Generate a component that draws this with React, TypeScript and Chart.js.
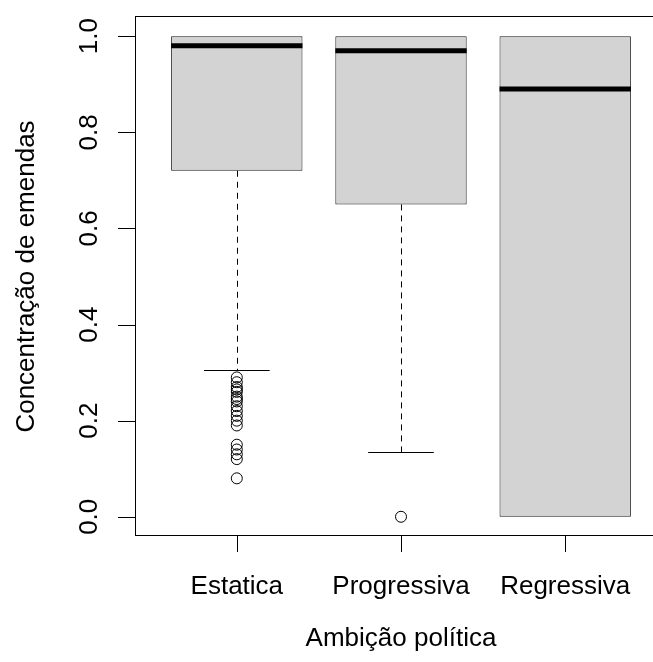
import React, { useEffect, useRef } from 'react';
import { Chart, registerables } from 'chart.js';

Chart.register(...registerables);

const categories = ['Estatica', 'Progressiva', 'Regressiva'];
const q1 = [0.72, 0.65, 0.0];
const medians = [0.98, 0.97, 0.89];
const q3 = [1.0, 1.0, 1.0];
const whiskerLow = [0.305, 0.135, 0.0];
const whiskerHigh = [1.0, 1.0, 1.0];
const outliersEstatica = [0.29, 0.28, 0.27, 0.265, 0.26, 0.25, 0.245, 0.24, 0.23, 0.22, 0.21, 0.2, 0.19, 0.15, 0.14, 0.13, 0.12, 0.08];
const outliersProgressiva = [0.0];
const outliersRegressiva: number[] = [];
const yTicks = [0.0, 0.2, 0.4, 0.6, 0.8, 1.0];
const xTitle = 'Ambição política';
const yTitle = 'Concentração de emendas';

const FONT = '26px "Liberation Sans", Arial, sans-serif';

const rBoxPlugin = {
  id: 'rBox',
  afterDatasetsDraw(chart: any) {
    const { ctx, scales } = chart;
    const x = scales.x;
    const y = scales.y;
    const meta = chart.getDatasetMeta(0);
    ctx.save();
    ctx.strokeStyle = '#000';
    meta.data.forEach((bar: any, i: number) => {
      const w = bar.width;
      const cx = x.getPixelForValue(i + 1);
      const line = (x1: number, y1: number, x2: number, y2: number) => {
        ctx.beginPath();
        ctx.moveTo(x1, y1);
        ctx.lineTo(x2, y2);
        ctx.stroke();
      };
      const px = Math.round(cx) + 0.5;
      ctx.lineWidth = 1;
      ctx.setLineDash([6, 5]);
      if (whiskerLow[i] < q1[i]) line(px, y.getPixelForValue(q1[i]), px, y.getPixelForValue(whiskerLow[i]));
      if (whiskerHigh[i] > q3[i]) line(px, y.getPixelForValue(q3[i]), px, y.getPixelForValue(whiskerHigh[i]));
      ctx.setLineDash([]);
      if (whiskerLow[i] < q1[i]) {
        const yl = Math.round(y.getPixelForValue(whiskerLow[i])) + 0.5;
        line(cx - w / 4, yl, cx + w / 4, yl);
      }
      if (whiskerHigh[i] > q3[i]) {
        const yh = Math.round(y.getPixelForValue(whiskerHigh[i])) + 0.5;
        line(cx - w / 4, yh, cx + w / 4, yh);
      }
      ctx.lineWidth = 5;
      const ym = y.getPixelForValue(medians[i]);
      line(cx - w / 2, ym, cx + w / 2, ym);
    });
    ctx.restore();
  },
  afterDraw(chart: any) {
    const { ctx, chartArea, scales } = chart;
    const x = scales.x;
    const y = scales.y;
    const { left, right, top, bottom } = chartArea;
    ctx.save();
    ctx.strokeStyle = '#000';
    ctx.fillStyle = '#000';
    ctx.lineWidth = 1;
    ctx.strokeRect(left + 0.5, top - 0.5, right - left, bottom - top);
    ctx.font = FONT;
    ctx.textAlign = 'center';
    ctx.textBaseline = 'alphabetic';
    yTicks.forEach((v) => {
      const py = Math.round(y.getPixelForValue(v)) + 0.5;
      ctx.beginPath();
      ctx.moveTo(left - 17, py);
      ctx.lineTo(left, py);
      ctx.stroke();
      ctx.save();
      ctx.translate(left - 38, y.getPixelForValue(v));
      ctx.rotate(-Math.PI / 2);
      ctx.fillText(v.toFixed(1), 0, 0);
      ctx.restore();
    });
    categories.forEach((c, i) => {
      const px = Math.round(x.getPixelForValue(i + 1)) + 0.5;
      ctx.beginPath();
      ctx.moveTo(px, bottom);
      ctx.lineTo(px, bottom + 16);
      ctx.stroke();
      ctx.fillText(c, x.getPixelForValue(i + 1), bottom + 58);
    });
    ctx.fillText(xTitle, (left + right) / 2, bottom + 110);
    ctx.save();
    ctx.translate(left - 101, (top + bottom) / 2);
    ctx.rotate(-Math.PI / 2);
    ctx.fillText(yTitle, 0, 0);
    ctx.restore();
    ctx.restore();
  },
};

export default function App() {
  const canvasRef = useRef<HTMLCanvasElement | null>(null);

  useEffect(() => {
    if (!canvasRef.current) return;
    const outlierPoints = [
      ...outliersEstatica.map((v) => ({ x: 1, y: v })),
      ...outliersProgressiva.map((v) => ({ x: 2, y: v })),
      ...outliersRegressiva.map((v) => ({ x: 3, y: v })),
    ];
    const chart = new Chart(canvasRef.current, {
      type: 'bar',
      data: {
        datasets: [
          {
            type: 'bar',
            data: categories.map((c, i) => ({ x: i + 1, y: [q1[i], q3[i]] })) as any,
            backgroundColor: '#D3D3D3',
            borderColor: '#1a1a1a',
            borderWidth: 1,
            borderSkipped: false,
            categoryPercentage: 1,
            barPercentage: 0.8,
          } as any,
          {
            type: 'scatter',
            data: outlierPoints,
            showLine: false,
            pointRadius: 5.5,
            pointBackgroundColor: 'rgba(0,0,0,0)',
            pointBorderColor: '#000',
            pointBorderWidth: 1,
          } as any,
        ],
      },
      options: {
        responsive: false,
        animation: false,
        layout: { padding: { left: 135, right: 13, top: 17, bottom: 126 } },
        plugins: { legend: { display: false }, tooltip: { enabled: false } },
        scales: {
          x: {
            type: 'linear',
            display: false,
            offset: false,
            min: 0.38,
            max: 3.62,
            afterBuildTicks: (s: any) => {
              s.ticks = categories.map((c, i) => ({ value: i + 1 }));
            },
          },
          y: {
            type: 'linear',
            display: false,
            min: -0.04,
            max: 1.04,
          },
        },
      } as any,
      plugins: [rBoxPlugin],
    });
    return () => chart.destroy();
  }, []);

  return (
    <div style={{ position: 'absolute', left: 0, top: 0, width: 653, height: 662, overflow: 'hidden', background: '#fff' }}>
      <canvas ref={canvasRef} width={680} height={662} style={{ width: 680, height: 662, display: 'block' }} />
    </div>
  );
}
